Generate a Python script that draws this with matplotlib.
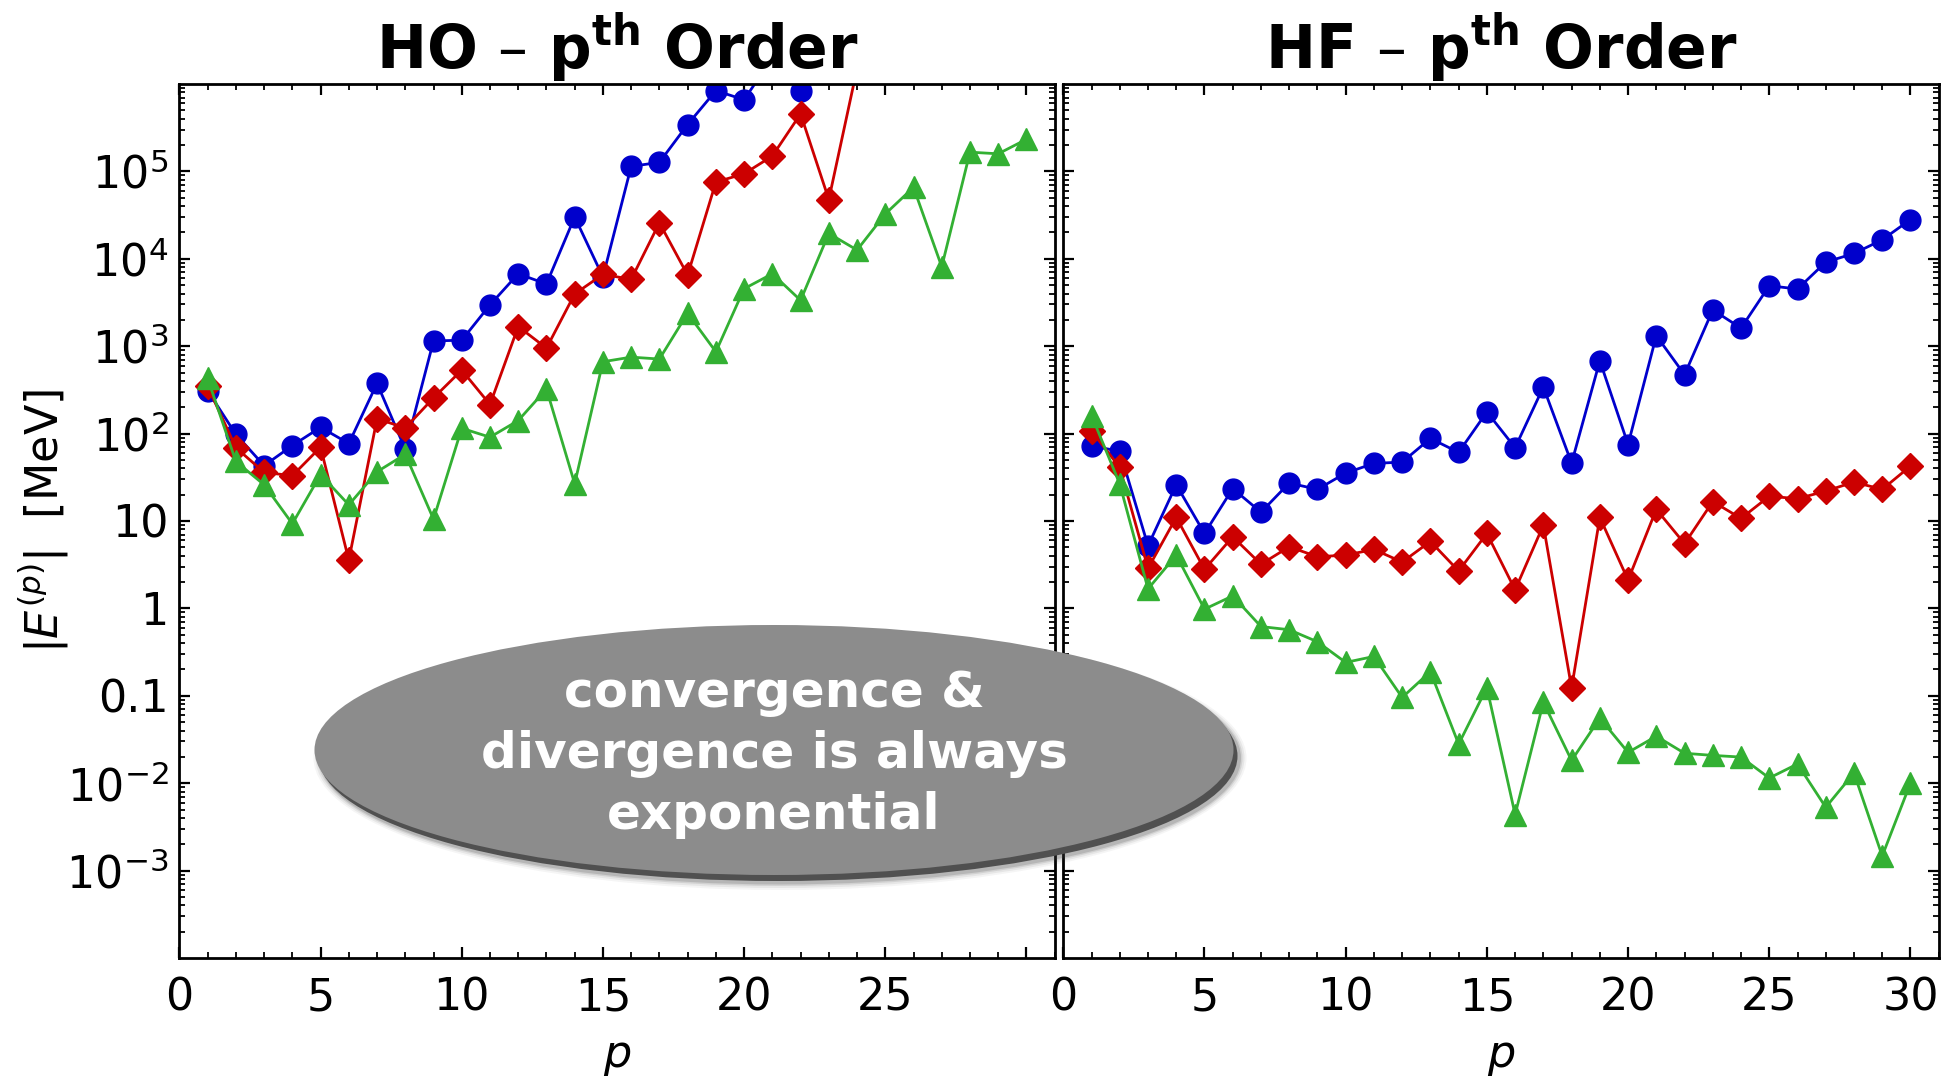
import matplotlib
matplotlib.use("Agg")
import matplotlib.pyplot as plt
from matplotlib.patches import Ellipse
from matplotlib.ticker import FixedLocator, FixedFormatter, LogLocator, NullFormatter, MultipleLocator

plt.rcParams['font.family'] = ['DejaVu Sans']
plt.rcParams['mathtext.fontset'] = 'dejavusans'

# ---------------- data ----------------
p_ho_blue = list(range(1, 23))
ho_blue = [310, 98, 43, 73, 118, 77, 376, 66, 1150, 1170, 2970, 6740, 5150, 30100,
           6200, 114000, 127000, 344000, 840000, 660000, 2.0e6, 840000]
p_ho_red = list(range(1, 25))
ho_red = [347, 69, 36, 33, 70, 3.57, 148, 116, 256, 533, 215, 1680, 950, 3960,
          6640, 5820, 25800, 6510, 75500, 94000, 150000, 455000, 47600, 1.5e6]
p_ho_green = list(range(1, 31))
ho_green = [428, 48, 26, 9.3, 34, 15.3, 36.6, 58, 10.5, 115, 91, 141, 324, 26.7,
            664, 750, 713, 2380, 863, 4550, 6740, 3350, 19500, 12600, 32600, 65700,
            8100, 166000, 159000, 233000]

p_hf = list(range(1, 31))
hf_blue = [72, 63, 5.2, 26, 7.2, 23.5, 12.6, 27.2, 23, 35.4, 45.6, 47.2, 88, 61, 177,
           69, 341, 46, 682, 75, 1320, 472, 2600, 1610, 4920, 4510, 9170, 11500, 16500, 28100]
hf_red = [107, 41, 2.87, 11, 2.8, 6.6, 3.2, 5.07, 3.9, 4.07, 4.73, 3.39, 5.84, 2.68, 7.2,
          1.63, 8.95, 0.123, 11, 2.11, 13.6, 5.5, 16.7, 10.7, 19.2, 18, 22, 27.9, 23, 42.5]
hf_green = [161, 26.5, 1.67, 4.07, 0.98, 1.39, 0.62, 0.57, 0.415, 0.241, 0.282, 0.0957,
            0.189, 0.028, 0.124, 0.00438, 0.0843, 0.0182, 0.0555, 0.0225, 0.0345, 0.022,
            0.0208, 0.0199, 0.01146, 0.0166, 0.0053, 0.0131, 0.00147, 0.0100]

ytick_vals = [1e-3, 1e-2, 1e-1, 1, 10, 1e2, 1e3, 1e4, 1e5]
ytick_labels = [r"$10^{-3}$", r"$10^{-2}$", "0.1", "1", "10",
                r"$10^{2}$", r"$10^{3}$", r"$10^{4}$", r"$10^{5}$"]
xtick_left = [0, 5, 10, 15, 20, 25]
xtick_right = [0, 5, 10, 15, 20, 25, 30]
titles = [r"HO – p$^{\mathbf{th}}$ Order", r"HF – p$^{\mathbf{th}}$ Order"]
bubble_text = "convergence &\ndivergence is always\nexponential"

BLUE = "#0000cc"
RED = "#cc0000"
GREEN = "#33b033"

W, H = 1957, 1079
fig = plt.figure(figsize=(W / 100, H / 100), dpi=100)

bottom = 1 - 958 / H
top = 1 - 84 / H
axL = fig.add_axes([179.4 / W, bottom, (1054.7 - 179.4) / W, top - bottom])
axR = fig.add_axes([1063.3 / W, bottom, (1938.7 - 1063.3) / W, top - bottom])

def draw(ax, pb, yb, pr, yr, pg, yg):
    ax.plot(pb, yb, '-o', color=BLUE, lw=2, ms=15, mec=BLUE)
    ax.plot(pr, yr, '-D', color=RED, lw=2, ms=13, mec=RED)
    ax.plot(pg, yg, '-^', color=GREEN, lw=2, ms=16.5, mec=GREEN)

draw(axL, p_ho_blue, ho_blue, p_ho_red, ho_red, p_ho_green, ho_green)
draw(axR, p_hf, hf_blue, p_hf, hf_red, p_hf, hf_green)

for ax, title, xt in [(axL, titles[0], xtick_left), (axR, titles[1], xtick_right)]:
    ax.set_yscale('log')
    ax.set_ylim(1e-4, 1e6)
    ax.set_xlim(0, 31)
    ax.yaxis.set_major_locator(FixedLocator(ytick_vals))
    ax.yaxis.set_major_formatter(FixedFormatter(ytick_labels))
    ax.yaxis.set_minor_locator(LogLocator(base=10, subs=range(2, 10), numticks=30))
    ax.yaxis.set_minor_formatter(NullFormatter())
    ax.xaxis.set_major_locator(FixedLocator([0, 5, 10, 15, 20, 25, 30]))
    ax.xaxis.set_major_formatter(FixedFormatter([str(v) if v in xt else "" for v in [0, 5, 10, 15, 20, 25, 30]]))
    ax.xaxis.set_minor_locator(MultipleLocator(1))
    ax.tick_params(which='both', direction='in', top=True, right=True)
    ax.tick_params(which='major', length=8, width=1.6, labelsize=32)
    ax.tick_params(which='minor', length=4, width=1.3)
    ax.tick_params(axis='x', pad=13)
    ax.tick_params(axis='y', pad=8)
    for s in ax.spines.values():
        s.set_linewidth(2)
    ax.set_title(title, fontsize=43, fontweight='bold', pad=8)
    ax.set_xlabel(r"$p$", fontsize=32, va='top')
    ax.xaxis.set_label_coords(0.5, -0.088)

axR.tick_params(axis='y', labelleft=False)
axL.set_ylabel(r"$|E^{(p)}|$  [MeV]", fontsize=32, va='center')
axL.yaxis.set_label_coords(-0.155, 0.5)

# overlay bubble
ov = fig.add_axes([0, 0, 1, 1], zorder=10)
ov.set_xlim(0, W)
ov.set_ylim(H, 0)
ov.axis('off')
ov.patch.set_alpha(0)
cx, cy, ew, eh = 774, 750, 919, 250
for grow, a in [(14, 0.05), (10, 0.08), (6, 0.12), (3, 0.18)]:
    ov.add_patch(Ellipse((cx + 6, cy + 8), ew + grow, eh + grow, color='#404040', alpha=a, lw=0))
ov.add_patch(Ellipse((cx + 4, cy + 6), ew, eh, color='#505050', lw=0))
ov.add_patch(Ellipse((cx, cy), ew, eh, color='#8c8c8c', lw=0))
ov.text(cx, cy + 4, bubble_text, ha='center', va='center', color='white',
        fontsize=36, fontweight='bold', linespacing=1.33)

fig.savefig("out.png", dpi=100)
